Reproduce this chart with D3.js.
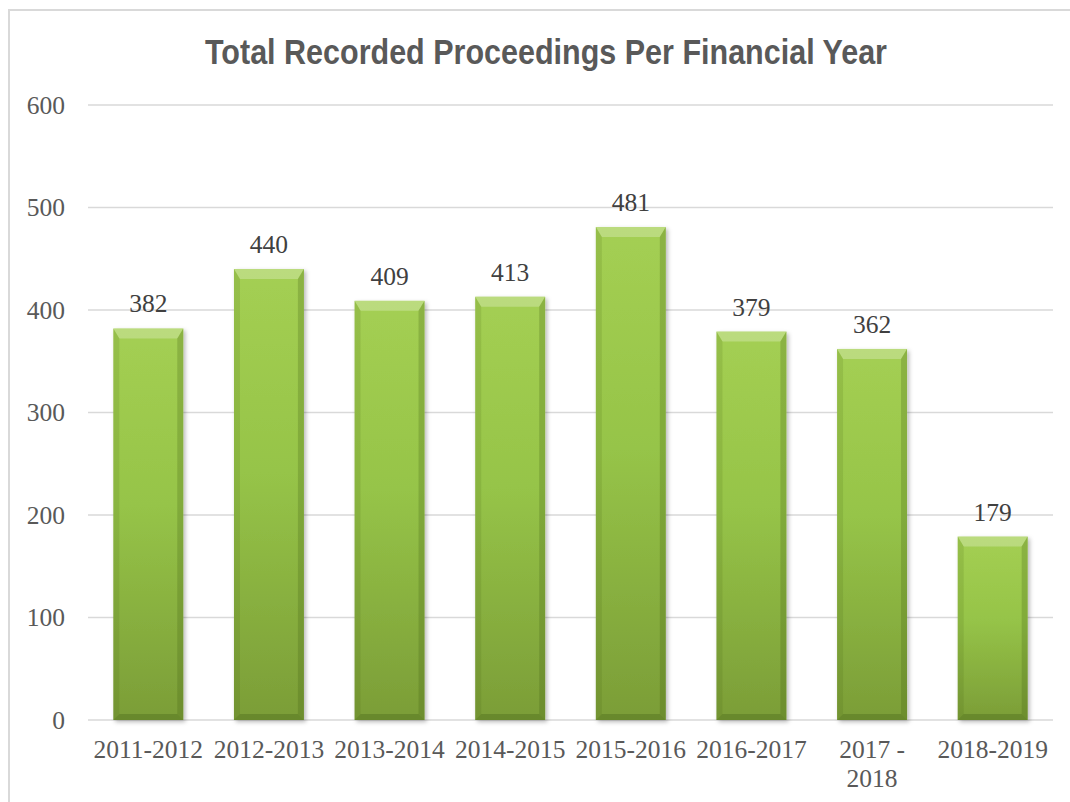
<!DOCTYPE html>
<html>
<head>
<meta charset="utf-8">
<script src="https://cdn.jsdelivr.net/npm/d3@7"></script>
<style>
  html, body { margin: 0; padding: 0; background: #ffffff; }
  svg { display: block; }
</style>
</head>
<body>
<div id="chart"></div>
<script>
// Financial years and recorded proceedings
const years = ["2011-2012", "2012-2013", "2013-2014", "2014-2015", "2015-2016", "2016-2017", "2017 - 2018", "2018-2019"];
const proceedings = [382, 440, 409, 413, 481, 379, 362, 179];
const yTicks = [0, 100, 200, 300, 400, 500, 600];
const chartTitle = "Total Recorded Proceedings Per Financial Year";

const W = 1070, H = 802;
const plot = { left: 88, right: 1053, top: 105, bottom: 720 };
const serif = "'Liberation Serif', 'Times New Roman', serif";
const labelSize = 25.5;

const svg = d3.select("#chart").append("svg")
  .attr("width", W).attr("height", H);

const defs = svg.append("defs");

// vertical gradient for the bar face
const grad = defs.append("linearGradient")
  .attr("id", "barFace").attr("x1", 0).attr("y1", 0).attr("x2", 0).attr("y2", 1);
grad.append("stop").attr("offset", "0%").attr("stop-color", "#a4cf53");
grad.append("stop").attr("offset", "45%").attr("stop-color", "#96c448");
grad.append("stop").attr("offset", "100%").attr("stop-color", "#7b9d37");

const shadow = defs.append("filter").attr("id", "barShadow")
  .attr("x", "-20%").attr("y", "-10%").attr("width", "140%").attr("height", "125%");
shadow.append("feDropShadow")
  .attr("dx", 2).attr("dy", 2).attr("stdDeviation", 2)
  .attr("flood-color", "#000").attr("flood-opacity", 0.28);

// chart frame
svg.append("path")
  .attr("d", `M9,${H} L9,10 L${W},10`)
  .attr("fill", "none").attr("stroke", "#d9d9d9").attr("stroke-width", 2);

const x = d3.scaleBand()
  .domain(years)
  .range([plot.left, plot.right])
  .paddingInner(0.42)
  .paddingOuter(0.21);

const y = d3.scaleLinear()
  .domain([0, 600])
  .range([plot.bottom, plot.top]);

// gridlines
svg.append("g")
  .selectAll("line")
  .data(yTicks)
  .join("line")
  .attr("x1", plot.left).attr("x2", plot.right)
  .attr("y1", d => y(d)).attr("y2", d => y(d))
  .attr("stroke", "#d9d9d9").attr("stroke-width", 1.3);

// y axis labels
const yAxis = svg.append("g")
  .attr("transform", `translate(${plot.left},0)`)
  .call(d3.axisLeft(y).tickValues(yTicks).tickSize(0).tickPadding(23));
yAxis.select(".domain").remove();
yAxis.selectAll("text")
  .attr("font-family", serif)
  .attr("font-size", labelSize)
  .attr("fill", "#595959");

// bars with bevel
const barData = years.map((c, i) => ({ cat: c, val: proceedings[i] }));
const bars = svg.append("g").selectAll("g.bar")
  .data(barData)
  .join("g").attr("class", "bar");

bars.each(function(d) {
  const g = d3.select(this);
  const bx = x(d.cat), bw = x.bandwidth();
  const by = y(d.val), bh = y(0) - y(d.val);
  const bt = 10, bs = 6, bb = 6;
  g.append("rect")
    .attr("x", bx).attr("y", by).attr("width", bw).attr("height", bh)
    .attr("fill", "url(#barFace)")
    .attr("filter", "url(#barShadow)");
  // top bevel
  g.append("path")
    .attr("d", `M${bx},${by} L${bx + bw},${by} L${bx + bw - bs},${by + bt} L${bx + bs},${by + bt} Z`)
    .attr("fill", "#ffffff").attr("opacity", 0.25);
  // left bevel
  g.append("path")
    .attr("d", `M${bx},${by} L${bx + bs},${by + bt} L${bx + bs},${by + bh - bb} L${bx},${by + bh} Z`)
    .attr("fill", "#3d5a10").attr("opacity", 0.14);
  // right bevel
  g.append("path")
    .attr("d", `M${bx + bw},${by} L${bx + bw - bs},${by + bt} L${bx + bw - bs},${by + bh - bb} L${bx + bw},${by + bh} Z`)
    .attr("fill", "#3d5a10").attr("opacity", 0.24);
  // bottom bevel
  g.append("path")
    .attr("d", `M${bx},${by + bh} L${bx + bs},${by + bh - bb} L${bx + bw - bs},${by + bh - bb} L${bx + bw},${by + bh} Z`)
    .attr("fill", "#3d5a10").attr("opacity", 0.3);
});

// value labels
svg.append("g").selectAll("text")
  .data(barData)
  .join("text")
  .attr("x", d => x(d.cat) + x.bandwidth() / 2)
  .attr("y", d => y(d.val) - 16)
  .attr("text-anchor", "middle")
  .attr("font-family", serif)
  .attr("font-size", labelSize)
  .attr("fill", "#404040")
  .text(d => d.val);

// category labels, wrapped to the band step
const catLabels = svg.append("g").selectAll("text")
  .data(years)
  .join("text")
  .attr("x", d => x(d) + x.bandwidth() / 2)
  .attr("y", 758)
  .attr("text-anchor", "middle")
  .attr("font-family", serif)
  .attr("font-size", labelSize)
  .attr("fill", "#595959");

const maxWidth = x.step() - 4;
catLabels.each(function(d) {
  const t = d3.select(this);
  const words = d.split(" ");
  let line = [];
  let tspan = t.append("tspan").attr("x", t.attr("x")).attr("dy", 0);
  words.forEach(w => {
    line.push(w);
    tspan.text(line.join(" "));
    if (tspan.node().getComputedTextLength() > maxWidth && line.length > 1) {
      line.pop();
      tspan.text(line.join(" "));
      line = [w];
      tspan = t.append("tspan").attr("x", t.attr("x")).attr("dy", 29).text(w);
    }
  });
});

// title
svg.append("text")
  .attr("x", 546).attr("y", 64)
  .attr("text-anchor", "middle")
  .attr("font-family", "'Liberation Sans Narrow', 'Arial Narrow', 'Liberation Sans', Arial, sans-serif")
  .attr("font-weight", "bold")
  .attr("font-size", 35)
  .attr("fill", "#595959")
  .attr("textLength", 682)
  .attr("lengthAdjust", "spacingAndGlyphs")
  .text(chartTitle);
</script>
</body>
</html>
